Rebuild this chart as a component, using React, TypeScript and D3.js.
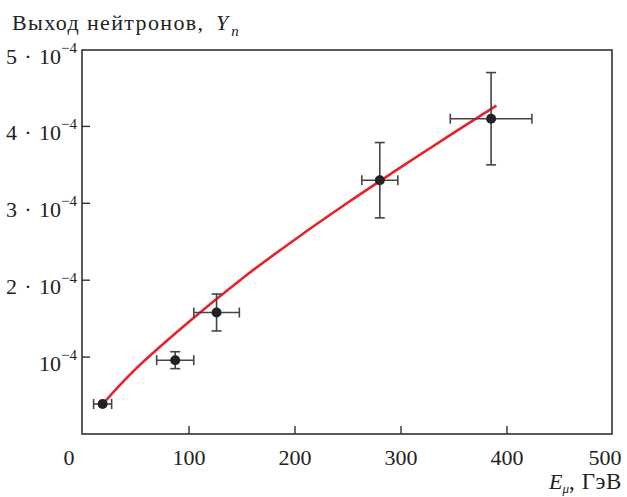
import React from 'react';
import * as d3 from 'd3';

// Data points: energy (GeV), yield, errors
const energy = [18.5, 87, 126, 280, 385];
const energyErr = [8.5, 17.5, 21.5, 17, 38.5];
const yieldVals = [0.39e-4, 0.96e-4, 1.58e-4, 3.3e-4, 4.1e-4];
const yieldErr = [0, 0.11e-4, 0.24e-4, 0.49e-4, 0.6e-4];

// Red curve
const curveX = [18.5, 50, 100, 150, 200, 250, 300, 350, 390];
const curveY = [0.39e-4, 0.85e-4, 1.46e-4, 2.02e-4, 2.53e-4, 3.01e-4, 3.47e-4, 3.92e-4, 4.27e-4];

const xTicks = [0, 100, 200, 300, 400, 500];
const yTicks = [1e-4, 2e-4, 3e-4, 4e-4, 5e-4];
const yTickMant = ['', '2', '3', '4', '5'];

const W = 627, H = 497;
const FONT = '"Liberation Serif", "DejaVu Serif", serif';
const INK = '#222';
const AX = '#333';

export default function App() {
  const x = d3.scaleLinear().domain([0, 500]).range([83, 613]);
  const y = d3.scaleLinear().domain([0, 5e-4]).range([434, 49.5]);
  const line = d3.line<number>().x((_, i) => x(curveX[i])).y((d) => y(d)).curve(d3.curveCatmullRom.alpha(0.5));
  const left = 82, right = 612, top = 50, bottom = 434;
  const cap = 5;
  return (
    <svg width={W} height={H} style={{ position: 'absolute', left: 0, top: 0, background: '#fff' }} fontFamily={FONT}>
      <rect x={0} y={0} width={W} height={H} fill="#fff" />
      {/* frame */}
      <rect x={left} y={top} width={right - left} height={bottom - top} fill="none" stroke={AX} strokeWidth={1.6} />
      {/* x ticks */}
      {xTicks.map((t, i) => (
        <g key={'xt' + t}>
          {i > 0 && i < xTicks.length - 1 && (
            <line x1={x(t)} x2={x(t)} y1={bottom} y2={bottom - 8} stroke={AX} strokeWidth={1.4} />
          )}
          <text
            x={i === 0 ? x(t) - 14 : i === xTicks.length - 1 ? x(t) - 8 : x(t)}
            y={465}
            fontSize={22}
            fill={INK}
            textAnchor="middle"
          >
            {t}
          </text>
        </g>
      ))}
      {/* y ticks */}
      {yTicks.map((t, i) => (
        <g key={'yt' + i}>
          {i < yTicks.length - 1 && (
            <line x1={left} x2={left + 8} y1={y(t)} y2={y(t)} stroke={AX} strokeWidth={1.4} />
          )}
          <text x={77} y={y(t) + 14} fontSize={22} fill={INK} textAnchor="end">
            {yTickMant[i] ? yTickMant[i] + '\u2004·\u200410' : '10'}
            <tspan fontSize={15} dy={-11}>{'\u2212'}</tspan>
            <tspan fontSize={15}>4</tspan>
          </text>
        </g>
      ))}
      {/* curve */}
      <path d={line(curveY) || ''} fill="none" stroke="#e8202a" strokeWidth={2.6} />
      {/* error bars and points */}
      {energy.map((e, i) => {
        const cx = x(e), cy = y(yieldVals[i]);
        const x0 = x(e - energyErr[i]), x1 = x(e + energyErr[i]);
        const y0 = y(yieldVals[i] - yieldErr[i]), y1 = y(yieldVals[i] + yieldErr[i]);
        return (
          <g key={'p' + i} stroke="#444" strokeWidth={1.6}>
            <line x1={x0} x2={x1} y1={cy} y2={cy} />
            <line x1={x0} x2={x0} y1={cy - cap} y2={cy + cap} />
            <line x1={x1} x2={x1} y1={cy - cap} y2={cy + cap} />
            {yieldErr[i] > 0 && (
              <>
                <line x1={cx} x2={cx} y1={y0} y2={y1} />
                <line x1={cx - cap} x2={cx + cap} y1={y0} y2={y0} />
                <line x1={cx - cap} x2={cx + cap} y1={y1} y2={y1} />
              </>
            )}
            <circle cx={cx} cy={cy} r={5} fill={INK} stroke="none" />
          </g>
        );
      })}
      {/* axis titles */}
      <text x={12} y={30} fontSize={22} fill={INK} textLength={191} lengthAdjust="spacing">
        Выход нейтронов,
      </text>
      <text x={216} y={30} fontSize={22} fill={INK}>
        <tspan fontStyle="italic">Y</tspan>
        <tspan fontStyle="italic" fontSize={15} dy={6} dx={3}>n</tspan>
      </text>
      <text x={622} y={489} fontSize={22} fill={INK} textAnchor="end">
        <tspan fontStyle="italic">E</tspan>
        <tspan fontStyle="italic" fontSize={13} dy={4}>μ</tspan>
        <tspan dy={-4} fontSize={23} letterSpacing={0.6}>, ГэВ</tspan>
      </text>
    </svg>
  );
}
